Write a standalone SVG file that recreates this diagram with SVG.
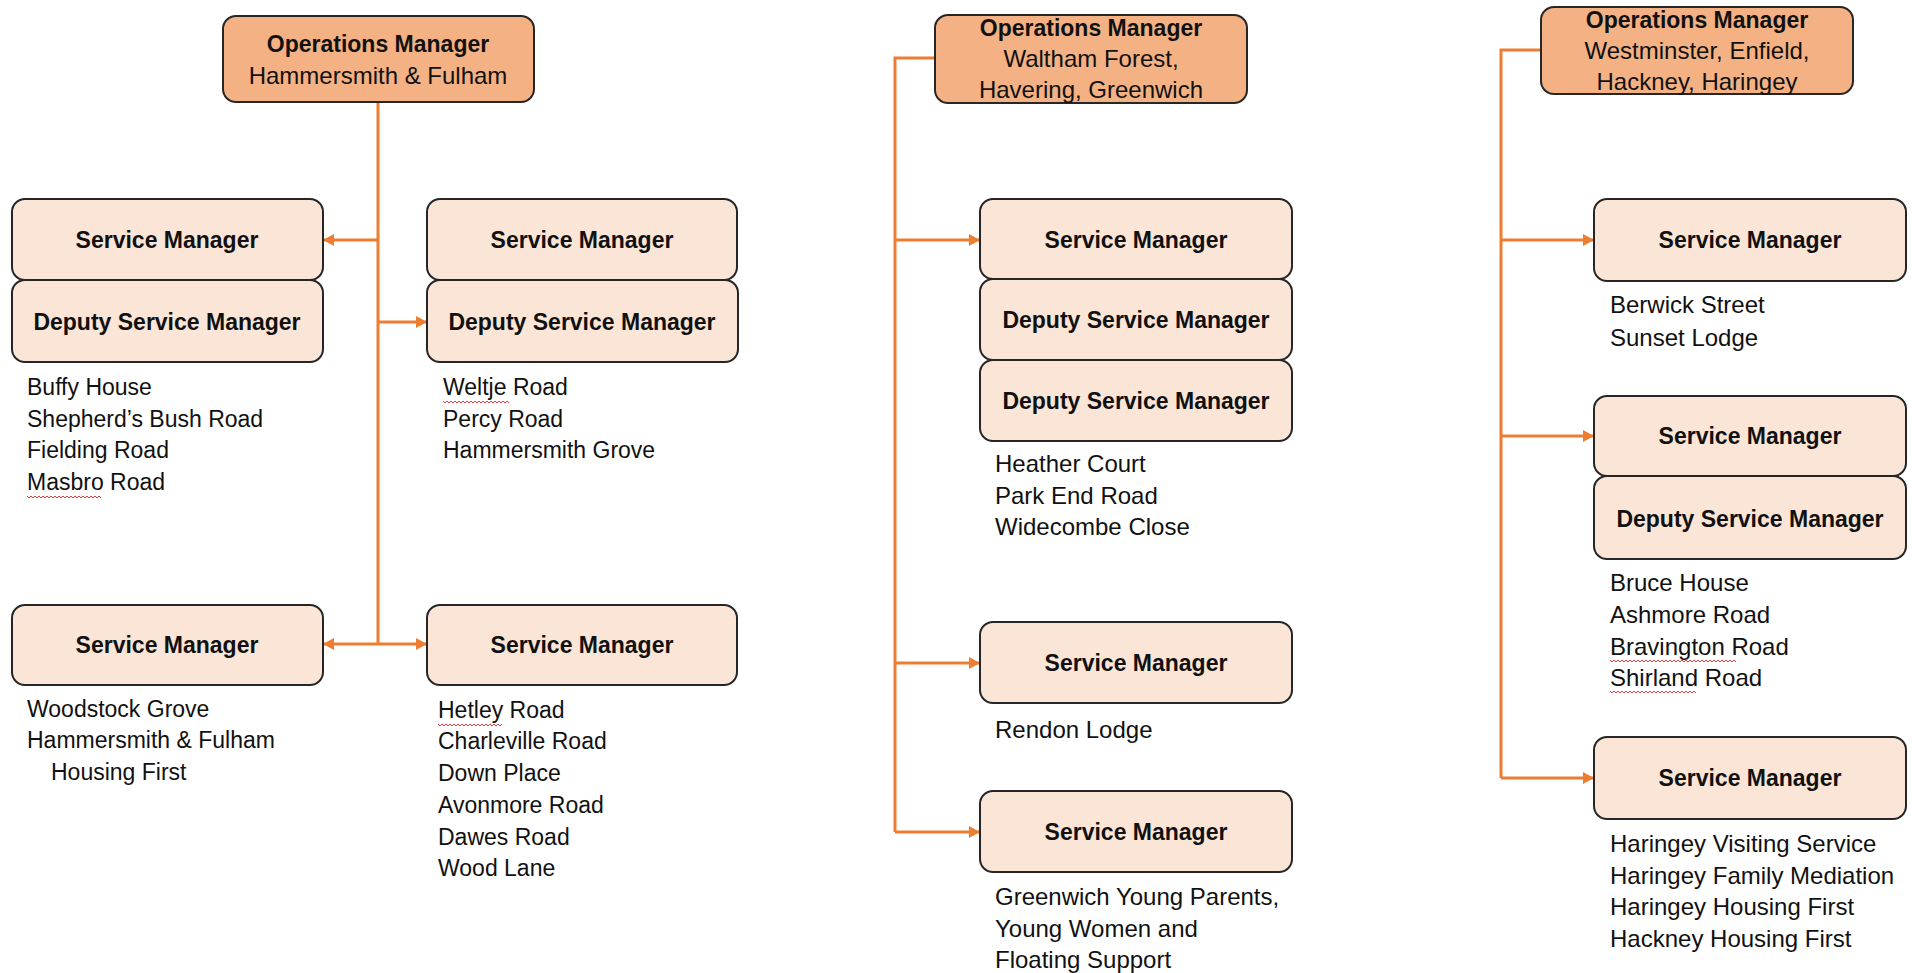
<svg xmlns="http://www.w3.org/2000/svg" width="1912" height="973" viewBox="0 0 1912 973">
<style>
.ops{fill:#F4B183;stroke:#262626;stroke-width:2}
.sm{fill:#FBE5D6;stroke:#262626;stroke-width:2}
.b{font-family:"Liberation Sans",Arial,sans-serif;font-weight:bold;font-size:23px;fill:#111;text-anchor:middle}
.r{font-family:"Liberation Sans",Arial,sans-serif;font-size:24px;fill:#111;text-anchor:middle}
.l{font-family:"Liberation Sans",Arial,sans-serif;font-size:23px;fill:#111}
.l2{font-family:"Liberation Sans",Arial,sans-serif;font-size:24px;fill:#111}
.c{fill:none;stroke:#ED7D31;stroke-width:3}
.a{fill:none;stroke:#ED7D31;stroke-width:3;marker-end:url(#ah)}
.w{fill:none;stroke:#E83A3A;stroke-width:1}
</style>
<defs>
<marker id="ah" viewBox="0 0 10 10" refX="10" refY="5" markerWidth="11" markerHeight="12" markerUnits="userSpaceOnUse" orient="auto" preserveAspectRatio="none">
<path d="M0,0 L10,5 L0,10 z" fill="#ED7D31"/>
</marker>
</defs>
<rect width="1912" height="973" fill="#fff"/>

<g id="connectors">
<path class="c" d="M378,102 V644"/>
<path class="a" d="M378,240 H323"/>
<path class="a" d="M378,322 H427"/>
<path class="a" d="M378,644 H323"/>
<path class="a" d="M378,644 H427"/>
<path class="c" d="M935,58 H895 V832"/>
<path class="a" d="M895,240 H980"/>
<path class="a" d="M895,663 H980"/>
<path class="a" d="M895,832 H980"/>
<path class="c" d="M1541,50 H1501 V778"/>
<path class="a" d="M1501,240 H1594"/>
<path class="a" d="M1501,436 H1594"/>
<path class="a" d="M1501,778 H1594"/>
</g>

<g id="ops-hf">
<rect class="ops" x="223" y="16" width="311" height="86" rx="13"/>
<text class="b" x="378" y="52">Operations Manager</text>
<text class="r" x="378" y="84">Hammersmith &amp; Fulham</text>
</g>

<g id="sm-hf1">
<rect class="sm" x="12" y="199" width="311" height="81" rx="13"/>
<text class="b" x="167" y="248">Service Manager</text>
</g>
<g id="dsm-hf1">
<rect class="sm" x="12" y="280" width="311" height="82" rx="13"/>
<text class="b" x="167" y="330">Deputy Service Manager</text>
</g>
<g id="list-hf1">
<text class="l" x="27" y="395">Buffy House</text>
<text class="l" x="27" y="427">Shepherd’s Bush Road</text>
<text class="l" x="27" y="458">Fielding Road</text>
<text class="l" x="27" y="490">Masbro Road</text>
<path class="w" d="M27,496 l2,2 l2,-2 l2,2 l2,-2 l2,2 l2,-2 l2,2 l2,-2 l2,2 l2,-2 l2,2 l2,-2 l2,2 l2,-2 l2,2 l2,-2 l2,2 l2,-2 l2,2 l2,-2 l2,2 l2,-2 l2,2 l2,-2 l2,2 l2,-2 l2,2 l2,-2 l2,2 l2,-2 l2,2 l2,-2 l2,2 l2,-2 l2,2 l2,-2 l2,2"/>
</g>

<g id="sm-hf2">
<rect class="sm" x="427" y="199" width="310" height="81" rx="13"/>
<text class="b" x="582" y="248">Service Manager</text>
</g>
<g id="dsm-hf2">
<rect class="sm" x="427" y="280" width="311" height="82" rx="13"/>
<text class="b" x="582" y="330">Deputy Service Manager</text>
</g>
<g id="list-hf2">
<text class="l" x="443" y="395">Weltje Road</text>
<text class="l" x="443" y="427">Percy Road</text>
<text class="l" x="443" y="458">Hammersmith Grove</text>
<path class="w" d="M443,401 l2,2 l2,-2 l2,2 l2,-2 l2,2 l2,-2 l2,2 l2,-2 l2,2 l2,-2 l2,2 l2,-2 l2,2 l2,-2 l2,2 l2,-2 l2,2 l2,-2 l2,2 l2,-2 l2,2 l2,-2 l2,2 l2,-2 l2,2 l2,-2 l2,2 l2,-2 l2,2 l2,-2 l2,2 l2,-2 l2,2"/>
</g>

<g id="sm-hf3">
<rect class="sm" x="12" y="605" width="311" height="80" rx="13"/>
<text class="b" x="167" y="653">Service Manager</text>
</g>
<g id="list-hf3">
<text class="l" x="27" y="717">Woodstock Grove</text>
<text class="l" x="27" y="748">Hammersmith &amp; Fulham</text>
<text class="l" x="51" y="780">Housing First</text>
</g>

<g id="sm-hf4">
<rect class="sm" x="427" y="605" width="310" height="80" rx="13"/>
<text class="b" x="582" y="653">Service Manager</text>
</g>
<g id="list-hf4">
<text class="l" x="438" y="718">Hetley Road</text>
<text class="l" x="438" y="749">Charleville Road</text>
<text class="l" x="438" y="781">Down Place</text>
<text class="l" x="438" y="813">Avonmore Road</text>
<text class="l" x="438" y="845">Dawes Road</text>
<text class="l" x="438" y="876">Wood Lane</text>
<path class="w" d="M438,724 l2,2 l2,-2 l2,2 l2,-2 l2,2 l2,-2 l2,2 l2,-2 l2,2 l2,-2 l2,2 l2,-2 l2,2 l2,-2 l2,2 l2,-2 l2,2 l2,-2 l2,2 l2,-2 l2,2 l2,-2 l2,2 l2,-2 l2,2 l2,-2 l2,2 l2,-2 l2,2 l2,-2 l2,2 l2,-2"/>
</g>

<g id="ops-wf">
<rect class="ops" x="935" y="15" width="312" height="88" rx="13"/>
<text class="b" x="1091" y="36">Operations Manager</text>
<text class="r" x="1091" y="67">Waltham Forest,</text>
<text class="r" x="1091" y="98">Havering, Greenwich</text>
</g>
<g id="sm-wf1">
<rect class="sm" x="980" y="199" width="312" height="80" rx="13"/>
<text class="b" x="1136" y="248">Service Manager</text>
</g>
<g id="dsm-wf1">
<rect class="sm" x="980" y="279" width="312" height="81" rx="13"/>
<text class="b" x="1136" y="328">Deputy Service Manager</text>
</g>
<g id="dsm-wf2">
<rect class="sm" x="980" y="360" width="312" height="81" rx="13"/>
<text class="b" x="1136" y="409">Deputy Service Manager</text>
</g>
<g id="list-wf1">
<text class="l2" x="995" y="472">Heather Court</text>
<text class="l2" x="995" y="504">Park End Road</text>
<text class="l2" x="995" y="535">Widecombe Close</text>
</g>
<g id="sm-wf2">
<rect class="sm" x="980" y="622" width="312" height="81" rx="13"/>
<text class="b" x="1136" y="671">Service Manager</text>
</g>
<g id="list-wf2">
<text class="l2" x="995" y="738">Rendon Lodge</text>
</g>
<g id="sm-wf3">
<rect class="sm" x="980" y="791" width="312" height="81" rx="13"/>
<text class="b" x="1136" y="840">Service Manager</text>
</g>
<g id="list-wf3">
<text class="l2" x="995" y="905">Greenwich Young Parents,</text>
<text class="l2" x="995" y="937">Young Women and</text>
<text class="l2" x="995" y="968">Floating Support</text>
</g>

<g id="ops-we">
<rect class="ops" x="1541" y="7" width="312" height="87" rx="13"/>
<text class="b" x="1697" y="28">Operations Manager</text>
<text class="r" x="1697" y="59">Westminster, Enfield,</text>
<text class="r" x="1697" y="90">Hackney, Haringey</text>
</g>
<g id="sm-we1">
<rect class="sm" x="1594" y="199" width="312" height="82" rx="13"/>
<text class="b" x="1750" y="248">Service Manager</text>
</g>
<g id="list-we1">
<text class="l2" x="1610" y="313">Berwick Street</text>
<text class="l2" x="1610" y="346">Sunset Lodge</text>
</g>
<g id="sm-we2">
<rect class="sm" x="1594" y="396" width="312" height="80" rx="13"/>
<text class="b" x="1750" y="444">Service Manager</text>
</g>
<g id="dsm-we2">
<rect class="sm" x="1594" y="476" width="312" height="83" rx="13"/>
<text class="b" x="1750" y="527">Deputy Service Manager</text>
</g>
<g id="list-we2">
<text class="l2" x="1610" y="591">Bruce House</text>
<text class="l2" x="1610" y="623">Ashmore Road</text>
<text class="l2" x="1610" y="655">Bravington Road</text>
<text class="l2" x="1610" y="686">Shirland Road</text>
<path class="w" d="M1610,660 l2,2 l2,-2 l2,2 l2,-2 l2,2 l2,-2 l2,2 l2,-2 l2,2 l2,-2 l2,2 l2,-2 l2,2 l2,-2 l2,2 l2,-2 l2,2 l2,-2 l2,2 l2,-2 l2,2 l2,-2 l2,2 l2,-2 l2,2 l2,-2 l2,2 l2,-2 l2,2 l2,-2 l2,2 l2,-2 l2,2 l2,-2 l2,2 l2,-2 l2,2 l2,-2 l2,2 l2,-2 l2,2 l2,-2 l2,2 l2,-2 l2,2 l2,-2 l2,2 l2,-2 l2,2 l2,-2 l2,2 l2,-2 l2,2 l2,-2 l2,2 l2,-2 l2,2 l2,-2 l2,2 l2,-2 l2,2 l2,-2 l2,2"/>
<path class="w" d="M1610,691 l2,2 l2,-2 l2,2 l2,-2 l2,2 l2,-2 l2,2 l2,-2 l2,2 l2,-2 l2,2 l2,-2 l2,2 l2,-2 l2,2 l2,-2 l2,2 l2,-2 l2,2 l2,-2 l2,2 l2,-2 l2,2 l2,-2 l2,2 l2,-2 l2,2 l2,-2 l2,2 l2,-2 l2,2 l2,-2 l2,2 l2,-2 l2,2 l2,-2 l2,2 l2,-2 l2,2 l2,-2 l2,2 l2,-2 l2,2"/>
</g>
<g id="sm-we3">
<rect class="sm" x="1594" y="737" width="312" height="82" rx="13"/>
<text class="b" x="1750" y="786">Service Manager</text>
</g>
<g id="list-we3">
<text class="l2" x="1610" y="852">Haringey Visiting Service</text>
<text class="l2" x="1610" y="884">Haringey Family Mediation</text>
<text class="l2" x="1610" y="915">Haringey Housing First</text>
<text class="l2" x="1610" y="947">Hackney Housing First</text>
</g>
</svg>
